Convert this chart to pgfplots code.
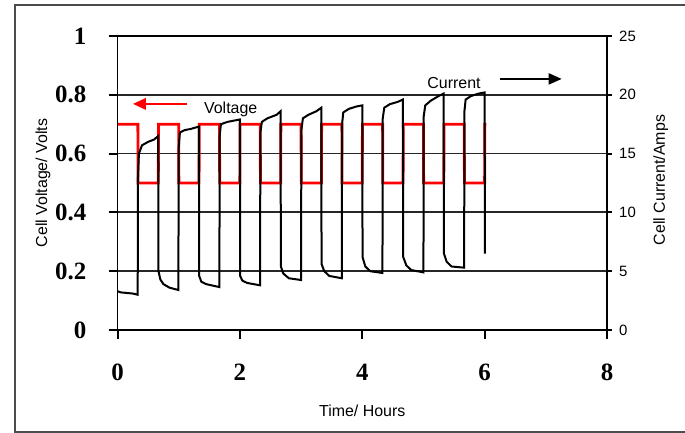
\documentclass[border=0pt]{standalone}
\usepackage{pgfplots}
\pgfplotsset{compat=1.18}
\usepackage{fontspec}
\setmainfont{Liberation Serif}
\newfontfamily\arial{Liberation Sans}
\usetikzlibrary{arrows.meta}

\pgfplotstableread{
t I
0 3.3
0.05 3.2
0.15 3.15
0.25 3.1
0.33 3.0
0.335 13.0
0.35 15.0
0.40 15.7
0.50 16.0
0.60 16.2
0.665 16.5
0.67 5.0
0.70 4.3
0.75 3.9
0.85 3.6
0.995 3.4
1.0 15.5
1.02 16.8
1.10 17.0
1.20 17.1
1.33 17.3
1.335 4.6
1.37 4.1
1.45 3.9
1.665 3.65
1.67 16.5
1.69 17.5
1.80 17.7
2.0 17.9
2.005 4.6
2.04 4.2
2.12 4.0
2.33 3.8
2.335 16.8
2.36 17.7
2.45 18.0
2.60 18.3
2.665 18.6
2.67 5.4
2.71 4.8
2.80 4.4
3.0 4.25
3.005 17.0
3.03 18.0
3.12 18.3
3.25 18.6
3.33 18.9
3.335 5.6
3.38 5.0
3.46 4.6
3.665 4.4
3.67 17.5
3.69 18.5
3.78 18.8
3.90 19.0
4.0 19.1
4.005 6.2
4.05 5.4
4.13 5.0
4.33 4.85
4.335 18.0
4.36 18.9
4.45 19.2
4.58 19.4
4.665 19.6
4.67 6.2
4.72 5.5
4.80 5.1
5.0 4.9
5.005 18.2
5.03 19.1
5.12 19.5
5.25 19.9
5.33 20.1
5.335 6.5
5.38 5.8
5.46 5.4
5.665 5.3
5.67 18.6
5.69 19.6
5.78 19.9
5.90 20.1
6.0 20.2
6.005 6.5
}\currentdata

\pgfplotstableread{
t V
0 0.70
0.333 0.70
0.336 0.50
0.667 0.50
0.670 0.70
1.000 0.70
1.003 0.50
1.333 0.50
1.336 0.70
1.667 0.70
1.670 0.50
2.000 0.50
2.003 0.70
2.333 0.70
2.336 0.50
2.667 0.50
2.670 0.70
3.000 0.70
3.003 0.50
3.333 0.50
3.336 0.70
3.667 0.70
3.670 0.50
4.000 0.50
4.003 0.70
4.333 0.70
4.336 0.50
4.667 0.50
4.670 0.70
5.000 0.70
5.003 0.50
5.333 0.50
5.336 0.70
5.667 0.70
5.670 0.50
6.000 0.50
6.003 0.70
6.03 0.70
}\voltagedata

\begin{document}
\begin{tikzpicture}
\begin{axis}[
  at={(117.5bp,103bp)}, anchor=south west,
  scale only axis, width=489.5bp, height=294bp,
  xmin=0, xmax=8, ymin=0, ymax=1,
  axis line style={line width=1.8bp, black},
  xtick align=outside, ytick align=outside, xtick pos=left, ytick pos=left,
  major tick length=9bp,
  major tick style={line width=2bp, black},
  xtick={0,2,4,6,8}, ytick={0,0.2,0.4,0.6,0.8,1},
  xticklabels={0,2,4,6,8}, yticklabels={0,0.2,0.4,0.6,0.8,1},
  /pgf/number format/assume math mode=true,
  ticklabel style={font=\bfseries\fontsize{25}{25}\selectfont},
  yticklabel style={anchor=east, inner sep=0pt, xshift=-22bp},
  xticklabel style={anchor=north, inner sep=0pt, yshift=-25bp},
  ymajorgrids, major grid style={line width=1.8bp, black!85},
  xlabel={Time/ Hours}, ylabel={Cell Voltage/ Volts},
  every axis x label/.style={at={(axis description cs:0.5,-0.276)}, anchor=center, font=\arial\fontsize{16}{16}\selectfont},
  every axis y label/.style={at={(axis description cs:-0.152,0.5)}, rotate=90, anchor=center, font=\arial\fontsize{16}{16}\selectfont},
  extra description/.code={
    \foreach \f in {0,0.2,0.4,0.6,0.8,1}{
      \draw[line width=1.8bp, black] (axis description cs:0,\f) -- ++(-9bp,0);}
    \foreach \f in {0,0.25,0.5,0.75,1}{
      \draw[line width=1.8bp, black] (axis description cs:\f,0) -- ++(0,-8bp);}
  },
  clip=false,
]
\addplot[red, line width=2.8bp] table[x=t, y=V] {\voltagedata};
\node[font=\arial\fontsize{16}{16}\selectfont] at (axis cs:1.85,0.752) {Voltage};
\draw[red, line width=2.8bp, -{Triangle[length=13bp,width=11bp]}] (axis cs:1.14,0.769) -- (axis cs:0.25,0.769);
\node[font=\arial\fontsize{16}{16}\selectfont] at (axis cs:5.5,0.840) {Current};
\draw[black, line width=2bp, -{Triangle[length=13bp,width=11bp]}] (axis cs:6.25,0.854) -- (axis cs:7.26,0.854);
\end{axis}
\begin{axis}[
  at={(117.5bp,103bp)}, anchor=south west,
  scale only axis, width=489.5bp, height=294bp,
  xmin=0, xmax=8, ymin=0, ymax=25,
  xtick=\empty,
  axis line style={line width=1.8bp, black},
  ytick align=outside, ytick pos=right, major tick length=5bp,
  major tick style={line width=2bp, black},
  ytick={0,5,10,15,20,25}, yticklabels={0,5,10,15,20,25},
  /pgf/number format/assume math mode=true,
  yticklabel style={font=\arial\fontsize{15}{15}\selectfont, anchor=west, inner sep=0pt, xshift=7bp},
  ylabel={Cell Current/Amps},
  every axis y label/.style={at={(axis description cs:1.110,0.51)}, rotate=90, anchor=center, font=\arial\fontsize{16}{16}\selectfont},
  extra description/.code={
    \foreach \f in {0,0.2,0.4,0.6,0.8,1}{
      \draw[line width=1.8bp, black] (axis description cs:1,\f) -- ++(5bp,0);}
  },
  clip=false,
]
\addplot[black, line width=2bp] table[x=t, y=I] {\currentdata};
\end{axis}
\draw[line width=1.6bp, black!70] (685bp,1bp) -- (15bp,1bp) -- (15bp,428bp) -- (685bp,428bp);
\pgfresetboundingbox
\useasboundingbox (0,0) rectangle (685bp,433bp);
\end{tikzpicture}
\end{document}
